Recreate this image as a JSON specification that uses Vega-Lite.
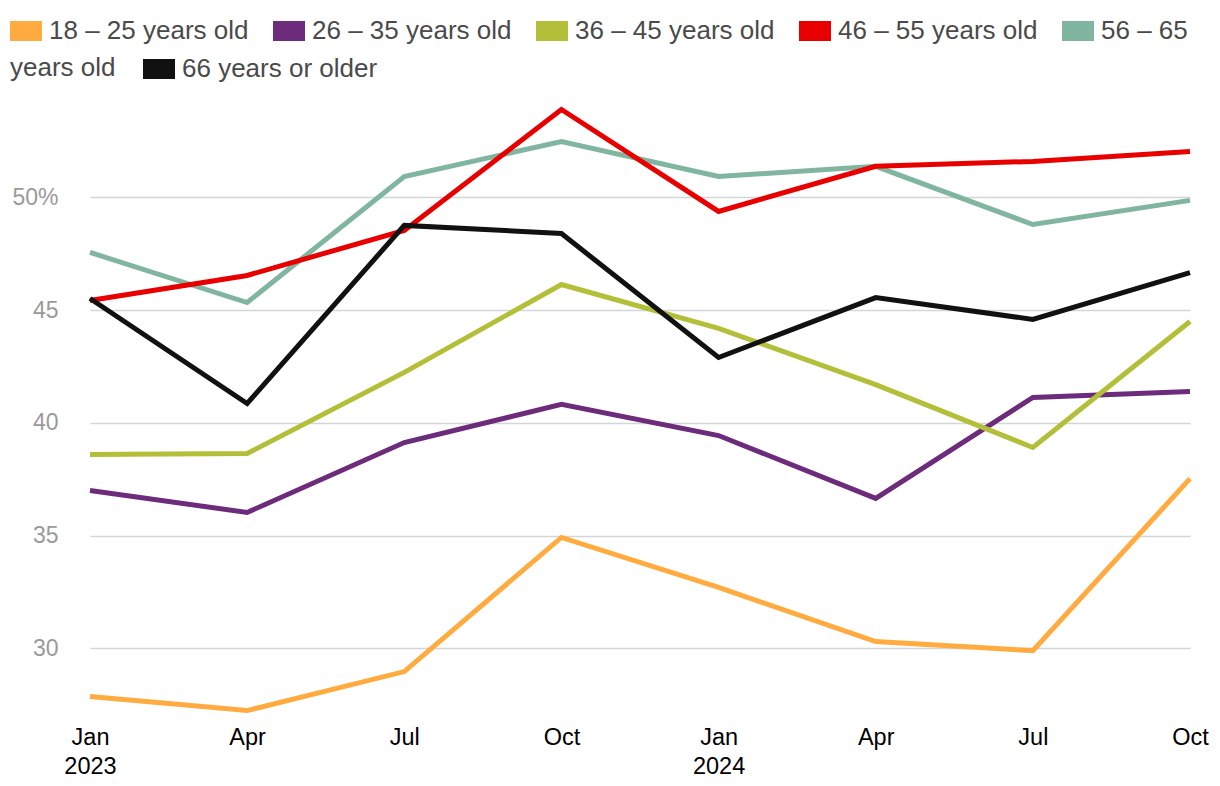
{
  "$schema": "https://vega.github.io/schema/vega-lite/v6.json",
  "width": 1124,
  "height": 620,
  "autosize": {"type": "none"},
  "padding": {"left": 71, "top": 96, "right": 25, "bottom": 70},
  "background": "white",
  "config": {"view": {"stroke": null}, "font": "Liberation Sans"},
  "data": {
    "values": [
      {"period": "Jan 2023", "group": "18 – 25 years old", "value": 27.86},
      {"period": "Apr 2023", "group": "18 – 25 years old", "value": 27.24},
      {"period": "Jul 2023", "group": "18 – 25 years old", "value": 28.97},
      {"period": "Oct 2023", "group": "18 – 25 years old", "value": 34.92},
      {"period": "Jan 2024", "group": "18 – 25 years old", "value": 32.7},
      {"period": "Apr 2024", "group": "18 – 25 years old", "value": 30.3},
      {"period": "Jul 2024", "group": "18 – 25 years old", "value": 29.9},
      {"period": "Oct 2024", "group": "18 – 25 years old", "value": 37.53},
      {"period": "Jan 2023", "group": "26 – 35 years old", "value": 37.0},
      {"period": "Apr 2023", "group": "26 – 35 years old", "value": 36.03},
      {"period": "Jul 2023", "group": "26 – 35 years old", "value": 39.13},
      {"period": "Oct 2023", "group": "26 – 35 years old", "value": 40.82},
      {"period": "Jan 2024", "group": "26 – 35 years old", "value": 39.44},
      {"period": "Apr 2024", "group": "26 – 35 years old", "value": 36.65},
      {"period": "Jul 2024", "group": "26 – 35 years old", "value": 41.13},
      {"period": "Oct 2024", "group": "26 – 35 years old", "value": 41.39},
      {"period": "Jan 2023", "group": "36 – 45 years old", "value": 38.6},
      {"period": "Apr 2023", "group": "36 – 45 years old", "value": 38.64},
      {"period": "Jul 2023", "group": "36 – 45 years old", "value": 42.24},
      {"period": "Oct 2023", "group": "36 – 45 years old", "value": 46.14},
      {"period": "Jan 2024", "group": "36 – 45 years old", "value": 44.19},
      {"period": "Apr 2024", "group": "36 – 45 years old", "value": 41.7},
      {"period": "Jul 2024", "group": "36 – 45 years old", "value": 38.91},
      {"period": "Oct 2024", "group": "36 – 45 years old", "value": 44.5},
      {"period": "Jan 2023", "group": "56 – 65 years old", "value": 47.56},
      {"period": "Apr 2023", "group": "56 – 65 years old", "value": 45.34},
      {"period": "Jul 2023", "group": "56 – 65 years old", "value": 50.93},
      {"period": "Oct 2023", "group": "56 – 65 years old", "value": 52.48},
      {"period": "Jan 2024", "group": "56 – 65 years old", "value": 50.93},
      {"period": "Apr 2024", "group": "56 – 65 years old", "value": 51.38},
      {"period": "Jul 2024", "group": "56 – 65 years old", "value": 48.8},
      {"period": "Oct 2024", "group": "56 – 65 years old", "value": 49.87},
      {"period": "Jan 2023", "group": "46 – 55 years old", "value": 45.43},
      {"period": "Apr 2023", "group": "46 – 55 years old", "value": 46.54},
      {"period": "Jul 2023", "group": "46 – 55 years old", "value": 48.54},
      {"period": "Oct 2023", "group": "46 – 55 years old", "value": 53.9},
      {"period": "Jan 2024", "group": "46 – 55 years old", "value": 49.38},
      {"period": "Apr 2024", "group": "46 – 55 years old", "value": 51.38},
      {"period": "Jul 2024", "group": "46 – 55 years old", "value": 51.6},
      {"period": "Oct 2024", "group": "46 – 55 years old", "value": 52.04},
      {"period": "Jan 2023", "group": "66 years or older", "value": 45.52},
      {"period": "Apr 2023", "group": "66 years or older", "value": 40.86},
      {"period": "Jul 2023", "group": "66 years or older", "value": 48.76},
      {"period": "Oct 2023", "group": "66 years or older", "value": 48.4},
      {"period": "Jan 2024", "group": "66 years or older", "value": 42.9},
      {"period": "Apr 2024", "group": "66 years or older", "value": 45.56},
      {"period": "Jul 2024", "group": "66 years or older", "value": 44.59},
      {"period": "Oct 2024", "group": "66 years or older", "value": 46.67}
    ]
  },
  "encoding": {
    "x": {
      "field": "period",
      "type": "ordinal",
      "sort": ["Jan 2023", "Apr 2023", "Jul 2023", "Oct 2023", "Jan 2024", "Apr 2024", "Jul 2024", "Oct 2024"],
      "scale": {"type": "point", "range": [19, 1119], "padding": 0},
      "axis": {
        "orient": "bottom",
        "title": null,
        "domain": false,
        "ticks": false,
        "grid": false,
        "labelAngle": 0,
        "labelFontSize": 23.5,
        "labelColor": "#000000",
        "labelPadding": 9,
        "labelBaseline": "top",
        "labelLineHeight": 29,
        "labelOverlap": false,
        "labelBound": false,
        "labelExpr": "slice(datum.value,0,3)=='Jan' ? split(datum.value,' ') : slice(datum.value,0,3)"
      }
    },
    "y": {
      "field": "value",
      "type": "quantitative",
      "scale": {"domain": [27, 54.5], "nice": false, "zero": false},
      "axis": {
        "orient": "left",
        "title": null,
        "values": [30, 35, 40, 45, 50],
        "grid": true,
        "gridColor": "#d3d6d6",
        "gridWidth": 1.5,
        "domain": false,
        "ticks": false,
        "labelFontSize": 23,
        "labelColor": "#9a9a9a",
        "labelPadding": 13,
        "labelExpr": "datum.value == 50 ? '50%' : datum.label"
      }
    }
  },
  "layer": [
    {
      "transform": [{"filter": "datum.group != '66 years or older'"}],
      "mark": {"type": "line", "strokeWidth": 5, "strokeJoin": "miter", "strokeCap": "butt"},
      "encoding": {
        "color": {
          "field": "group",
          "type": "nominal",
          "scale": {
            "domain": ["18 – 25 years old", "26 – 35 years old", "36 – 45 years old", "46 – 55 years old", "56 – 65 years old"],
            "range": ["#FFAB40", "#6C2B7B", "#B3BF38", "#E80000", "#80B5A0"]
          },
          "legend": {
            "title": null,
            "orient": "none",
            "legendX": -71,
            "legendY": -91,
            "direction": "horizontal",
            "columns": 5,
            "gridAlign": "none",
            "columnPadding": -16,
            "padding": 0,
            "labelFontSize": 26,
            "labelColor": "#4a4a4a",
            "labelOffset": -3,
            "labelLimit": 400,
            "labelExpr": "datum.label == '56 – 65 years old' ? '56 – 65' : datum.label",
            "symbolType": "stroke",
            "symbolSize": 1024,
            "symbolStrokeWidth": 20,
            "encode": {
              "symbols": {
                "update": {
                  "strokeWidth": {"value": 20},
                  "opacity": {"value": 1}
                }
              }
            }
          }
        }
      }
    },
    {
      "transform": [{"filter": "datum.group == '66 years or older'"}],
      "mark": {"type": "line", "strokeWidth": 5, "strokeJoin": "miter", "strokeCap": "butt"},
      "encoding": {
        "color": {
          "field": "group",
          "type": "nominal",
          "scale": {"domain": ["66 years or older"], "range": ["#111111"]},
          "legend": {
            "title": "years old",
            "titleOrient": "left",
            "titleFontSize": 26,
            "titleFontWeight": "normal",
            "titleColor": "#4a4a4a",
            "titlePadding": 17,
            "titleLimit": 400,
            "titleBaseline": "alphabetic",
            "orient": "none",
            "legendX": -61,
            "legendY": -53,
            "direction": "horizontal",
            "padding": 0,
            "labelFontSize": 26,
            "labelColor": "#4a4a4a",
            "labelOffset": -3,
            "labelLimit": 400,
            "symbolType": "stroke",
            "symbolSize": 1024,
            "symbolStrokeWidth": 20,
            "encode": {
              "symbols": {
                "update": {
                  "strokeWidth": {"value": 20},
                  "opacity": {"value": 1}
                }
              }
            }
          }
        }
      }
    }
  ],
  "resolve": {"scale": {"color": "independent"}, "legend": {"color": "independent"}}
}
